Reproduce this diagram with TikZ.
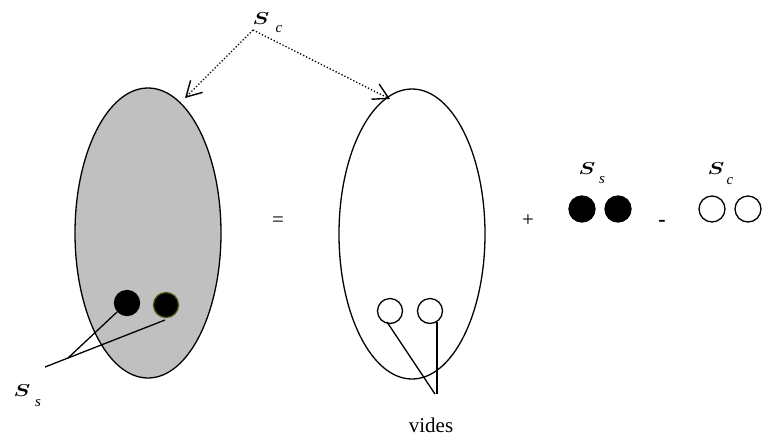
\documentclass[tikz,border=0pt]{standalone}
\usepackage{amsmath}
\usepackage{graphicx}
\usepackage{fontspec}
\setmainfont{Liberation Serif}
\usetikzlibrary{shapes.geometric,arrows.meta}
\newcommand{\bigS}{\scalebox{1.3}[1]{$\boldsymbol{S}$}}
\begin{document}
\begin{tikzpicture}[x=1pt,y=-1pt,line width=1.3pt,
  oval/.style={draw,ellipse,inner sep=0pt,minimum width=146pt,minimum height=290pt},
  dot/.style={draw,circle,inner sep=0pt,minimum size=25pt},
  lab/.style={inner sep=0pt,font=\fontsize{17.5}{20}\selectfont},
  sub/.style={inner sep=0pt,font=\fontsize{15}{17}\selectfont\itshape},
  txt/.style={inner sep=0pt,font=\fontsize{21}{23}\selectfont},
  arr/.style={dotted,-{Straight Barb[length=15pt,width=17pt,line width=1.4pt]}}]
\useasboundingbox (0,0) rectangle (762,440);
% ellipses
\node[oval,fill={rgb,255:red,192;green,192;blue,192}] (L) at (148,233) {};
\node[oval] (R) at (412,234) {};
% S_c top
\node[lab] (Sc) at (261,19) {\bigS};
\node[sub] (Scs) at (279,29) {c};
\coordinate (sc0) at (253,30);
\coordinate (a1) at (185,98);
\coordinate (a2) at (390,99);
\draw[arr] (sc0) -- (a1);
\draw[arr] (sc0) -- (a2);
% left circles
\node[dot,fill=black] (b1) at (127,303) {};
\node[dot,fill=black,draw={rgb,255:red,80;green,80;blue,20}] (b2) at (166,305) {};
\coordinate (l0) at (45,367);
\coordinate (l1) at (68,358);
\coordinate (l2) at (165,320);
\coordinate (l3) at (117,312);
\draw (l0) -- (l2);
\draw (l1) -- (l3);
\node[lab] (Ss) at (22,391) {\bigS};
\node[sub] (Sss) at (38,403) {s};
% right ellipse circles
\node[dot] (w1) at (390,311) {};
\node[dot] (w2) at (430,311) {};
\coordinate (v0) at (435,394);
\coordinate (v3) at (437,394);
\coordinate (v1) at (387,322);
\coordinate (v2) at (437,322);
\draw (v1) -- (v0);
\draw (v2) -- (v3);
\node[txt] (vides) at (431,425) {vides};
% equation symbols
\node[txt] (eq) at (278,222) {=};
\node[txt] (plus) at (528,221) {+};
\node[dot,fill=black,minimum size=26pt] (p1) at (582,209) {};
\node[dot,fill=black,minimum size=26pt] (p2) at (618,209) {};
\node[txt,font=\fontsize{22}{24}\selectfont\bfseries] (minus) at (662,223) {-};
\node[dot,minimum size=26pt] (q1) at (712,209) {};
\node[dot,minimum size=26pt] (q2) at (748,209) {};
\node[lab] (S2) at (587,169) {\bigS};
\node[sub] (S2s) at (602,180) {s};
\node[lab] (S3) at (716,169) {\bigS};
\node[sub] (S3s) at (730,181) {c};
\end{tikzpicture}
\end{document}
